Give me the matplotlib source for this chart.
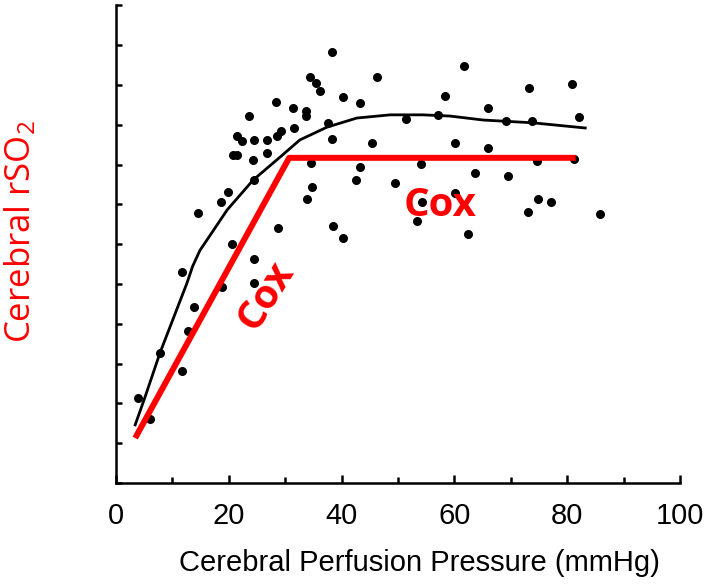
import matplotlib
matplotlib.use("Agg")
import matplotlib.pyplot as plt
from matplotlib.ticker import MultipleLocator

# scatter points (CPP in mmHg, rSO2 in tick units)
cpp = [3.9, 6.0, 7.8, 11.7, 12.8, 13.8, 11.7, 18.8, 20.6, 24.5, 24.5, 14.5, 18.6,
       19.9, 24.5, 28.7, 33.9, 34.8, 34.6, 38.5, 40.2, 20.7, 21.5, 24.3, 26.8, 21.5,
       22.3, 24.5, 26.8, 28.5, 29.3, 31.6, 23.6, 28.4, 31.4, 33.7, 33.7, 37.6, 38.3,
       40.2, 38.3, 34.4, 35.5, 36.2, 46.3, 43.3, 45.4, 43.3, 42.6, 49.5, 58.3, 61.7,
       51.4, 57.1, 60.1, 54.1, 54.3, 53.4, 60.1, 62.4, 66.0, 66.0, 63.7, 69.5, 69.1,
       73.8, 73.2, 80.9, 82.1, 74.6, 81.2, 74.8, 77.1, 73.0, 85.8]
rso2 = [2.14, 1.61, 3.27, 2.81, 3.82, 4.42, 5.30, 4.92, 6.01, 5.63, 5.03, 6.78, 7.06,
        7.31, 7.61, 6.41, 7.14, 7.44, 8.04, 6.46, 6.16, 8.24, 8.24, 8.12, 8.29, 8.72,
        8.59, 8.62, 8.62, 8.72, 8.84, 8.92, 9.22, 9.57, 9.42, 9.35, 9.22, 9.05, 8.64,
        9.70, 10.83, 10.20, 10.05, 9.85, 10.20, 9.55, 8.54, 7.94, 7.61, 7.54, 9.72, 10.48,
        9.15, 9.25, 8.54, 8.02, 7.06, 6.58, 7.29, 6.26, 9.42, 8.42, 7.79, 7.71, 9.10,
        9.10, 9.92, 10.03, 9.20, 8.09, 8.14, 7.14, 7.06, 6.81, 6.76]

# hand-drawn fit curve
curve_x = [3.4, 5.1, 7.8, 10.8, 12.6, 13.6, 14.9, 16.1, 19.7, 24.3, 29.1, 32.6,
           37.4, 42.7, 48.6, 54.4, 59.2, 65.1, 73.9, 83.2]
curve_y = [1.46, 2.14, 3.27, 4.37, 5.03, 5.45, 5.85, 6.10, 6.86, 7.61, 8.19, 8.62,
           8.94, 9.17, 9.25, 9.25, 9.22, 9.12, 9.05, 8.92]

# red autoregulation overlay
red_x = [3.4, 30.7, 81.5]
red_y = [1.13, 8.17, 8.17]

xticks = [0, 20, 40, 60, 80, 100]
xlabel = "Cerebral Perfusion Pressure (mmHg)"
ylabel = "Cerebral rSO$\\mathregular{_2}$"

fig = plt.figure(figsize=(7.04, 5.84), dpi=100)
ax = fig.add_axes([116 / 704, 1 - 483 / 584, 564 / 704, 477.6 / 584])

ax.scatter(cpp, rso2, s=30, color="black", zorder=3)
ax.plot(curve_x, curve_y, color="black", lw=2.0, zorder=2,
        solid_joinstyle="round")
ax.plot(red_x, red_y, color="#ff0000", lw=4.3, solid_capstyle="butt", zorder=4)

ax.text(26.6, 4.72, "Cox", color="#ff0000", fontsize=29, fontweight="bold",
        family="Open Sans", rotation=58, ha="center", va="center", zorder=5)
ax.text(57.4, 6.98, "Cox", color="#ff0000", fontsize=29, fontweight="bold",
        family="Open Sans", ha="center", va="center", zorder=5)

ax.set_xlim(0, 100)
ax.set_ylim(0, 12)
for s in ["top", "right"]:
    ax.spines[s].set_visible(False)
for s in ["left", "bottom"]:
    ax.spines[s].set_linewidth(1.8)

ax.set_xticks(xticks)
ax.xaxis.set_minor_locator(MultipleLocator(10))
ax.yaxis.set_major_locator(MultipleLocator(1))
ax.tick_params(axis="x", which="major", direction="in", length=6, width=1.8,
               labelsize=21, pad=14)
ax.tick_params(axis="x", which="minor", direction="in", length=4, width=1.8)
ax.tick_params(axis="y", direction="in", length=4, width=1.8, labelleft=False)
for lab in ax.get_xticklabels():
    lab.set_family("Liberation Sans")

fig.text(419 / 704, 1 - 563 / 584, xlabel, fontsize=21, family="Liberation Sans",
         ha="center", va="center")
fig.text(20 / 704, 1 - 232 / 584, ylabel, fontsize=25, family="Open Sans",
         color="#ff0000", rotation=90, ha="center", va="center")

fig.savefig("out.png", dpi=100)
